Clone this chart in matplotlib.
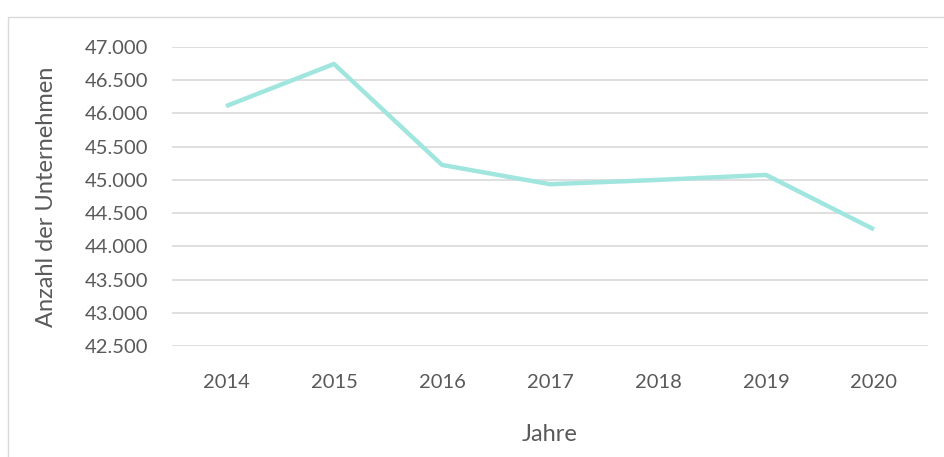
import matplotlib
matplotlib.use('Agg')
import matplotlib.pyplot as plt
from matplotlib.patches import Rectangle
from matplotlib.ticker import FuncFormatter

years = ['2014', '2015', '2016', '2017', '2018', '2019', '2020']
companies = [46110, 46745, 45225, 44935, 45000, 45075, 44255]
yticks = [42500, 43000, 43500, 44000, 44500, 45000, 45500, 46000, 46500, 47000]

plt.rcParams['font.family'] = ['Lato', 'DejaVu Sans']
text_color = '#595959'

W, H = 944, 457
fig = plt.figure(figsize=(W / 100, H / 100), dpi=100)

# light frame around the chart (Excel chart border)
fig.patches.append(Rectangle((8 / W, -0.1), 1.1, 1 - 17 / H + 0.1,
                             transform=fig.transFigure, fill=False,
                             edgecolor='#d9d9d9', linewidth=1))

ax = fig.add_axes([172 / W, 1 - 346 / H, (928 - 172) / W, (346 - 47) / H])
x = range(len(years))
ax.plot(x, companies, color='#a0e6de', linewidth=3.2, solid_capstyle='butt')

ax.set_xlim(-0.5, len(years) - 0.5)
ax.set_ylim(42500, 47000)
ax.set_yticks(yticks)
ax.yaxis.set_major_formatter(FuncFormatter(lambda v, p: f'{int(v):,}'.replace(',', '.')))
ax.set_xticks(list(x))
ax.set_xticklabels(years)
ax.grid(axis='y', color='#d9d9d9', linewidth=1.2)
ax.set_axisbelow(True)
for s in ax.spines.values():
    s.set_visible(False)
ax.tick_params(length=0, colors=text_color, labelsize=14.5)
ax.tick_params(axis='y', pad=17)
ax.tick_params(axis='x', pad=20)

ax.set_xlabel('Jahre', color=text_color, fontsize=17, labelpad=24)
ax.set_ylabel('Anzahl der Unternehmen', color=text_color, fontsize=17, labelpad=20)

fig.savefig('out.png', dpi=100)
